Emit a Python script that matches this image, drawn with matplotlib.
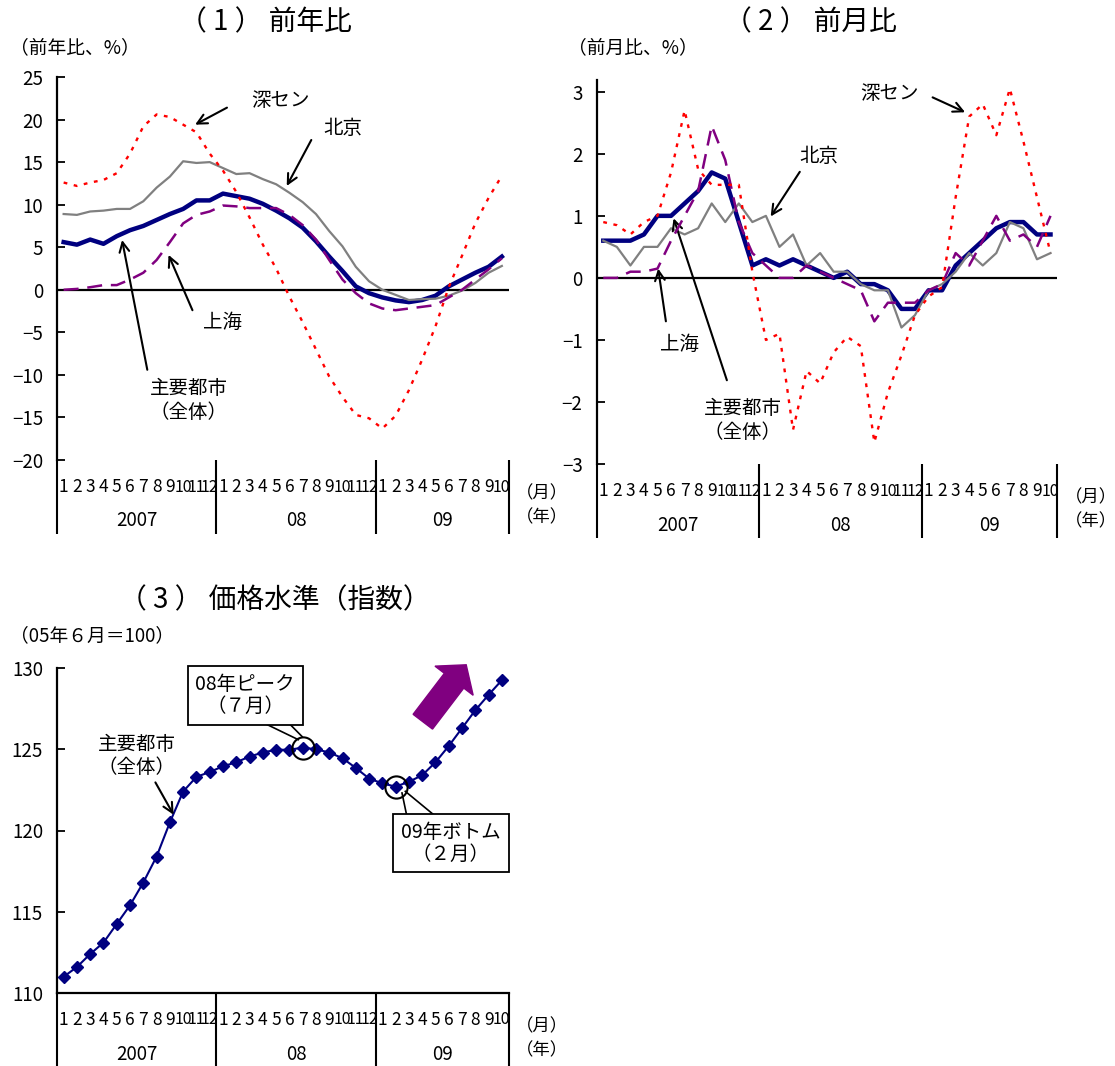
import matplotlib
matplotlib.use("Agg")
import matplotlib.pyplot as plt
from matplotlib.patches import FancyArrow
from matplotlib.transforms import IdentityTransform

plt.rcParams['font.family'] = ['Noto Sans CJK JP', 'DejaVu Sans']

# 月次データ（2007年1月～2009年10月）
months = [str(m) for m in range(1, 13)] * 2 + [str(m) for m in range(1, 11)]
years = ["2007", "08", "09"]
year_edges = [-0.5, 11.5, 23.5, 33.5]

# (1) 前年比（%）
yoy_all = [5.6, 5.3, 5.9, 5.4, 6.3, 7.0, 7.5, 8.2, 8.9, 9.5, 10.5, 10.5,
           11.3, 11.0, 10.7, 10.1, 9.3, 8.4, 7.3, 5.7, 3.9, 2.2, 0.4, -0.4,
           -0.9, -1.25, -1.45, -1.2, -0.7, 0.4, 1.2, 2.0, 2.7, 3.9]
yoy_beijing = [8.9, 8.8, 9.2, 9.3, 9.5, 9.5, 10.4, 12.0, 13.3, 15.1, 14.9, 15.0,
               14.3, 13.6, 13.7, 13.0, 12.4, 11.4, 10.3, 8.9, 6.9, 5.1, 2.7, 1.0,
               0.0, -0.6, -1.2, -1.1, -1.05, -0.7, -0.1, 0.8, 2.0, 2.8]
yoy_shanghai = [0.0, 0.1, 0.3, 0.55, 0.55, 1.2, 2.0, 3.5, 5.6, 7.8, 8.8, 9.2,
                9.9, 9.8, 9.6, 9.6, 9.6, 8.8, 7.6, 5.9, 3.5, 1.2, -0.4, -1.6,
                -2.2, -2.4, -2.2, -2.0, -1.8, -0.9, 0.0, 1.2, 2.4, 3.7]
yoy_shenzhen = [12.6, 12.2, 12.6, 12.9, 13.7, 16.0, 19.2, 20.6, 20.3, 19.4, 18.5, 16.0,
                14.0, 11.5, 8.5, 5.3, 2.5, -0.8, -3.8, -7.0, -10.2, -12.6, -14.7, -15.1,
                -16.3, -14.8, -11.8, -8.2, -4.3, 0.3, 4.0, 7.8, 10.8, 13.4]

# (2) 前月比（%）
mom_all = [0.6, 0.6, 0.6, 0.7, 1.0, 1.0, 1.2, 1.4, 1.7, 1.6, 0.9, 0.2,
           0.3, 0.2, 0.3, 0.2, 0.1, 0.0, 0.1, -0.1, -0.1, -0.2, -0.5, -0.5,
           -0.2, -0.2, 0.2, 0.4, 0.6, 0.8, 0.9, 0.9, 0.7, 0.7]
mom_beijing = [0.6, 0.5, 0.2, 0.5, 0.5, 0.8, 0.7, 0.8, 1.2, 0.9, 1.2, 0.9,
               1.0, 0.5, 0.7, 0.2, 0.4, 0.1, 0.1, -0.1, -0.2, -0.2, -0.8, -0.6,
               -0.2, -0.1, 0.1, 0.4, 0.2, 0.4, 0.9, 0.8, 0.3, 0.4]
mom_shanghai = [0.0, 0.0, 0.1, 0.1, 0.15, 0.6, 1.0, 1.4, 2.45, 1.9, 0.9, 0.4,
                0.2, 0.0, 0.0, 0.2, 0.1, 0.0, -0.1, -0.2, -0.7, -0.4, -0.4, -0.4,
                -0.2, -0.1, 0.4, 0.2, 0.6, 1.0, 0.6, 0.7, 0.5, 1.0]
mom_shenzhen = [0.9, 0.85, 0.7, 0.9, 1.0, 1.7, 2.7, 1.75, 1.5, 1.5, 1.5, 0.1,
                -1.0, -0.9, -2.45, -1.5, -1.7, -1.2, -0.95, -1.1, -2.65, -1.85, -1.25, -0.6,
                -0.3, -0.15, 1.3, 2.6, 2.8, 2.3, 3.05, 2.2, 1.3, 0.4]

# (3) 価格水準（05年6月=100）
index_all = [111.0, 111.6, 112.4, 113.1, 114.25, 115.4, 116.8, 118.4, 120.5, 122.4, 123.3, 123.6,
             123.95, 124.2, 124.55, 124.8, 124.97, 124.97, 125.1, 125.0, 124.8, 124.45, 123.85, 123.2,
             122.9, 122.7, 123.0, 123.4, 124.2, 125.2, 126.3, 127.4, 128.35, 129.25]
peak_i = 18    # 08年7月
bottom_i = 25  # 09年2月

NAVY = '#000080'
GRAY = '#808080'
PURPLE = '#800080'
RED = '#FF0000'

W, H = 1115, 1066
fig = plt.figure(figsize=(W / 100, H / 100), dpi=100)


def px_rect(left, top, right, bottom):
    return [left / W, 1 - bottom / H, (right - left) / W, (bottom - top) / H]


def month_axis(ax):
    x = range(len(months))
    ax.set_xlim(-0.5, len(months) - 0.5)
    ax.set_xticks([])
    h = ax.get_position().height * H
    tr = ax.get_xaxis_transform()
    for i, m in zip(x, months):
        ax.text(i, -27 / h, m, transform=tr, ha='center', va='center',
                fontsize=12.5 if len(m) == 1 else 11.5)
    for xb in year_edges:
        ax.plot([xb, xb], [0, -74 / h], transform=tr, color='black', lw=1.5,
                clip_on=False, solid_capstyle='butt')
    for k, y in enumerate(years):
        xc = (year_edges[k] + year_edges[k + 1]) / 2
        ax.text(xc, -61 / h, y, transform=tr, ha='center', va='center', fontsize=13.5)
    ax.text(36, -33 / h, '（月）', transform=tr, ha='center', va='center', fontsize=12.5)
    ax.text(36, -57 / h, '（年）', transform=tr, ha='center', va='center', fontsize=12.5)


def style_y(ax, ticks):
    ax.set_yticks(ticks)
    ax.tick_params(axis='y', direction='in', length=6, width=1.3, labelsize=13.5, pad=10)
    for s in ['top', 'right', 'bottom']:
        ax.spines[s].set_visible(False)
    ax.spines['left'].set_linewidth(1.6)


def arrow(ax, tail, tip, lw=1.5):
    ax.annotate('', xy=tip, xytext=tail,
                arrowprops=dict(arrowstyle='->,head_length=0.7,head_width=0.35',
                                color='black', lw=lw, shrinkA=0, shrinkB=0))


def draw_series(ax, s_all, s_bj, s_sh, s_sz):
    x = range(len(s_all))
    ax.axhline(0, color='black', lw=1.6, zorder=1)
    ax.plot(x, s_all, color=NAVY, lw=3.2, zorder=2)
    ax.plot(x, s_bj, color=GRAY, lw=1.6, zorder=3)
    ax.plot(x, s_sh, color=PURPLE, lw=1.8, linestyle=(0, (6, 3.5)), zorder=4)
    ax.plot(x, s_sz, color=RED, lw=1.7, linestyle=(0, (1.6, 2.8)), zorder=5)


LABEL = 14

# ---- (1) 前年比 ----
ax1 = fig.add_axes(px_rect(57, 77, 508.5, 460))
draw_series(ax1, yoy_all, yoy_beijing, yoy_shanghai, yoy_shenzhen)
ax1.set_ylim(-20, 25)
style_y(ax1, range(-20, 26, 5))
month_axis(ax1)

ax1.text(16.3, 22.2, '深セン', ha='center', va='center', fontsize=LABEL)
arrow(ax1, (12.3, 21.4), (9.9, 19.4))
ax1.text(21.0, 18.9, '北京', ha='center', va='center', fontsize=LABEL)
arrow(ax1, (18.65, 17.6), (16.8, 12.2))
ax1.text(11.95, -3.8, '上海', ha='center', va='center', fontsize=LABEL)
arrow(ax1, (9.7, -2.4), (7.9, 4.1))
ax1.text(9.4, -13.0, '主要都市\n（全体）', ha='center', va='center', fontsize=LABEL,
         linespacing=1.15)
arrow(ax1, (6.3, -9.4), (4.4, 5.85))

# ---- (2) 前月比 ----
ax2 = fig.add_axes(px_rect(596.5, 80, 1057.3, 464))
draw_series(ax2, mom_all, mom_beijing, mom_shanghai, mom_shenzhen)
ax2.set_ylim(-3, 3.19)
style_y(ax2, range(-3, 4))
month_axis(ax2)

ax2.text(21.1, 2.97, '深セン', ha='center', va='center', fontsize=LABEL)
arrow(ax2, (24.3, 2.91), (26.7, 2.67))
ax2.text(15.9, 1.96, '北京', ha='center', va='center', fontsize=LABEL)
arrow(ax2, (14.5, 1.71), (12.35, 0.99))
ax2.text(5.66, -1.08, '上海', ha='center', va='center', fontsize=LABEL)
arrow(ax2, (4.62, -0.70), (4.05, 0.15))
ax2.text(10.3, -2.3, '主要都市\n（全体）', ha='center', va='center', fontsize=LABEL,
         linespacing=1.15)
arrow(ax2, (9.12, -1.65), (5.19, 0.96))

# ---- (3) 価格水準 ----
ax3 = fig.add_axes(px_rect(57, 668, 508.5, 993))
x3 = range(len(index_all))
ax3.plot(x3, index_all, color=NAVY, lw=1.5, marker='D', ms=6, zorder=3)
ax3.set_ylim(110, 130)
style_y(ax3, range(110, 131, 5))
ax3.spines['bottom'].set_visible(True)
ax3.spines['bottom'].set_linewidth(1.6)
month_axis(ax3)

# ピークとボトムの丸印
for i in (peak_i, bottom_i):
    ax3.plot(i, index_all[i], 'o', ms=16, mfc='none', mec='black', mew=1.5, zorder=4)

box = dict(boxstyle='square,pad=0.4', fc='white', ec='black', lw=1.3)
ax3.text(13.68, 128.3, '08年ピーク\n（７月）', ha='center', va='center', fontsize=LABEL,
         linespacing=1.05, bbox=box, zorder=5)
ax3.plot([14.56, 17.67], [126.82, 125.59], color='black', lw=1.2)
ax3.plot([16.70, 17.97], [126.82, 125.77], color='black', lw=1.2)

ax3.text(29.16, 119.23, '09年ボトム\n（２月）', ha='center', va='center', fontsize=LABEL,
         linespacing=1.05, bbox=box, zorder=5, clip_on=False)
ax3.plot([25.48, 25.90], [122.31, 120.67], color='black', lw=1.2)
ax3.plot([25.73, 28.31], [122.41, 120.67], color='black', lw=1.2)

ax3.text(5.49, 124.6, '主要都市\n（全体）', ha='center', va='center', fontsize=LABEL,
         linespacing=1.15)
arrow(ax3, (6.91, 122.96), (8.28, 120.97))

# 上昇を示す太矢印
big = FancyArrow(422.8, H - 721.7, 43.4, 56.9, width=24.4, head_width=48,
                 head_length=20, length_includes_head=True, color=PURPLE,
                 transform=IdentityTransform())
fig.add_artist(big)

# タイトルと単位
fig.text(265 / W, 1 - 22 / H, '（ 1 ） 前年比', ha='center', va='center', fontsize=20)
fig.text(810 / W, 1 - 22 / H, '（ 2 ） 前月比', ha='center', va='center', fontsize=20)
fig.text(275 / W, 1 - 600 / H, '（ 3 ） 価格水準（指数）', ha='center', va='center', fontsize=20)
fig.text(10 / W, 1 - 48 / H, '（前年比、%）', ha='left', va='center', fontsize=13.5)
fig.text(568 / W, 1 - 48 / H, '（前月比、%）', ha='left', va='center', fontsize=13.5)
fig.text(10 / W, 1 - 636 / H, '（05年６月＝100）', ha='left', va='center', fontsize=13.5)

fig.savefig('out.png', dpi=100)
